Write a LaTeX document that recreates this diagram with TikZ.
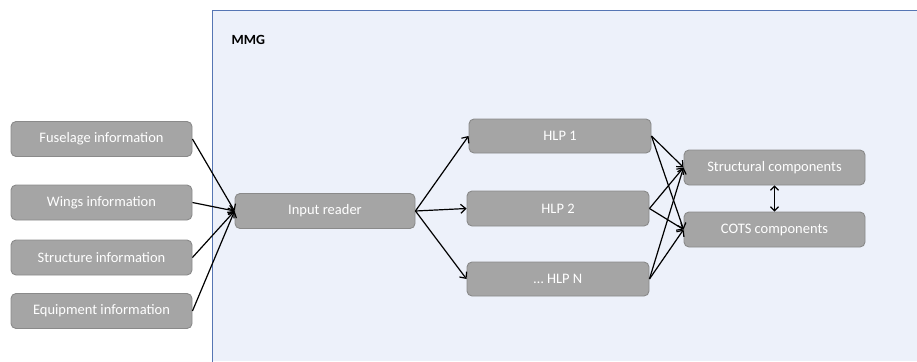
\documentclass[tikz,border=0pt]{standalone}
\usepackage{fontspec}
\setmainfont{Carlito}
\usetikzlibrary{arrows.meta}
\definecolor{panelfill}{HTML}{EDF1FA}
\definecolor{panelline}{HTML}{5676B4}
\definecolor{boxfill}{HTML}{A5A5A5}
\definecolor{boxline}{HTML}{8A8A8A}
\tikzset{
  block/.style={draw=boxline, fill=boxfill, line width=0.9pt, rounded corners=5pt,
    minimum width=181pt, minimum height=35pt, inner sep=0pt,
    text=white, font=\fontsize{14.5pt}{16pt}\selectfont},
  link/.style={line width=1.2pt, -{Straight Barb[length=5pt,width=9pt]}},
  twoway/.style={line width=1.2pt, {Straight Barb[length=4pt,width=8pt]}-{Straight Barb[length=4pt,width=8pt]}}
}
\begin{document}
\begin{tikzpicture}[x=1pt,y=-1pt]
  \useasboundingbox (0,0) rectangle (917,361);
  % MMG panel, running off the right and bottom edges
  \fill[panelfill] (212,10) rectangle (917,361);
  \draw[panelline, line width=0.9pt] (918,10) -- (212,10) -- (212,362);
  \node[anchor=west, font=\fontsize{14pt}{16pt}\selectfont\bfseries] (mmg) at (228,40) {MMG};

  % inputs
  \node[block] (fus) at (101.5,139)   {Fuselage information};
  \node[block] (wng) at (101.5,202.5) {Wings information};
  \node[block] (str) at (101.5,257.5) {Structure information};
  \node[block] (eqp) at (101.5,311)   {Equipment information};

  % reader and processors
  \node[block, minimum width=180pt] (inp) at (325,211) {Input reader};
  \node[block, minimum width=182pt, minimum height=34pt] (h1) at (560,136) {HLP 1};
  \node[block, minimum width=182pt] (h2) at (558,208.5) {HLP 2};
  \node[block, minimum width=182pt, minimum height=34pt] (hn) at (558,279) {\ldots{} HLP N};

  % outputs
  \node[block] (sc) at (774.5,167.5) {Structural components};
  \node[block] (cc) at (774.5,229.5) {COTS components};

  % connectors
  \foreach \s in {fus,wng,str,eqp} \draw[link] (\s.east) -- (inp.west);
  \foreach \t in {h1,h2,hn} \draw[link] (inp.east) -- (\t.west);
  \foreach \s in {h1,h2,hn} {
    \draw[link] (\s.east) -- (sc.west);
    \draw[link] (\s.east) -- (cc.west);
  }
  \draw[twoway] (sc.south) -- (cc.north);
\end{tikzpicture}
\end{document}
